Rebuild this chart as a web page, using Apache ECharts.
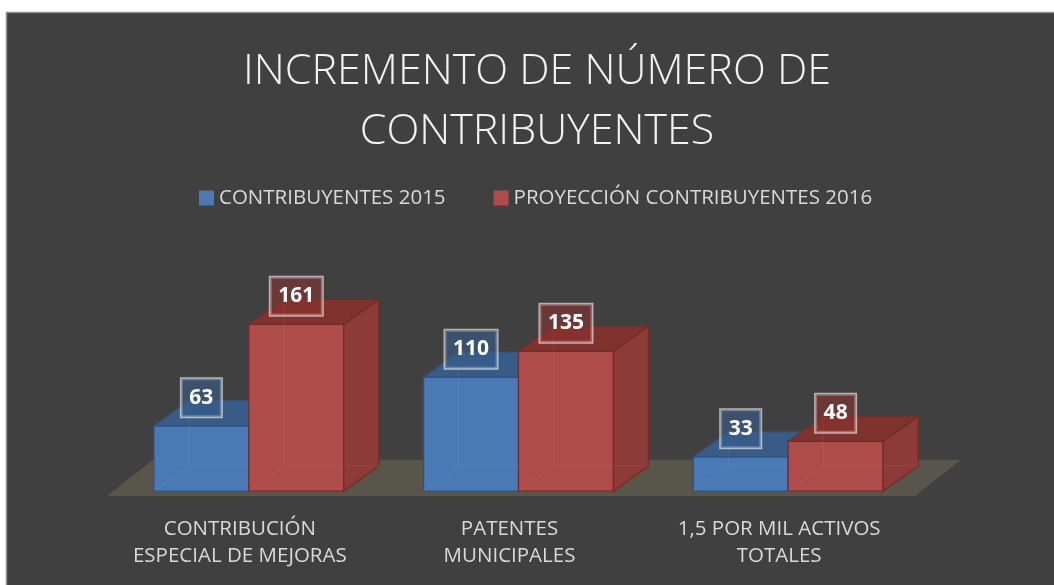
<!DOCTYPE html>
<html>
<head>
<meta charset="utf-8">
<script src="https://cdn.jsdelivr.net/npm/echarts@6/dist/echarts.min.js"></script>
<style>
  html, body { margin: 0; padding: 0; background: #ffffff; }
  #chart { width: 1054px; height: 585px; }
</style>
</head>
<body>
<div id="chart"></div>
<script>
// datos del gráfico
var categories = ['CONTRIBUCIÓN\nESPECIAL DE MEJORAS', 'PATENTES\nMUNICIPALES', '1,5 POR MIL ACTIVOS\nTOTALES'];
var seriesNames = ['CONTRIBUYENTES 2015', 'PROYECCIÓN CONTRIBUYENTES 2016'];
var contrib2015 = [63, 110, 33];
var proyeccion2016 = [161, 135, 48];

(function () {
  var font = '"Open Sans", "DejaVu Sans", sans-serif';

  var palette = [
    { front: '#4a7ab6', top: '#385b88', side: '#3d6292', edge: '#2e5282', label: 'rgba(56,93,138,0.6)' },
    { front: '#ad4c49', top: '#80322f', side: '#8c3b39', edge: '#732a28', label: 'rgba(140,50,48,0.55)' }
  ];

  function toData(arr) {
    return arr.map(function (v, i) { return [i, v]; });
  }

  // caja 3d de cada barra
  function barRenderer(side) {
    var c = palette[side];
    return function (params, api) {
      var cat = api.value(0), val = api.value(1);
      var base = api.coord([cat, 0]);
      var top = api.coord([cat, val]);
      var band = api.size([1, 0])[0];
      var w = band * 0.352;
      var x0 = side === 0 ? base[0] - w : base[0];
      var x1 = x0 + w;
      var y0 = base[1], y1 = top[1];
      var dx = band * 0.13, dy = band * 0.093;
      return {
        type: 'group',
        children: [
          { type: 'polygon', shape: { points: [[x0, y0], [x1, y0], [x1, y1], [x0, y1]] },
            style: { fill: c.front, stroke: c.edge, lineWidth: 1.2 } },
          { type: 'polygon', shape: { points: [[x1, y0], [x1 + dx, y0 - dy], [x1 + dx, y1 - dy], [x1, y1]] },
            style: { fill: c.side, stroke: c.edge, lineWidth: 1.2 } },
          { type: 'polygon', shape: { points: [[x0, y1], [x1, y1], [x1 + dx, y1 - dy], [x0 + dx, y1 - dy]] },
            style: { fill: c.top, stroke: c.edge, lineWidth: 1.2 } },
          // aristas ocultas (barra semitransparente)
          { type: 'polyline', shape: { points: [[x0, y0], [x0 + dx, y0 - dy], [x1 + dx, y0 - dy]] },
            style: { fill: null, stroke: 'rgba(255,255,255,0.07)', lineWidth: 1 } },
          { type: 'line', shape: { x1: x0 + dx, y1: y0 - dy, x2: x0 + dx, y2: y1 - dy },
            style: { stroke: 'rgba(255,255,255,0.07)', lineWidth: 1 } },
          { type: 'text', z2: 100,
            style: {
              x: (x0 + x1) / 2, y: y1 - 28, text: String(val),
              align: 'center', verticalAlign: 'middle',
              fill: '#ffffff', font: 'bold 21px ' + font, lineHeight: 24,
              backgroundColor: c.label, borderColor: 'rgba(255,255,255,0.6)', borderWidth: 1.5,
              padding: [7, 8]
            } }
        ]
      };
    };
  }

  // piso
  function floorRenderer(params, api) {
    var cs = params.coordSys;
    var band = api.size([1, 0])[0];
    var y0 = cs.y + cs.height;
    var dx = band * 0.17, dy = band * 0.134;
    var fl = cs.x - 7, fr = cs.x + cs.width - 8, fy = y0 + 5;
    return {
      type: 'polygon',
      shape: { points: [[fl, fy], [fr, fy], [fr + dx, fy - dy], [fl + dx, fy - dy]] },
      style: { fill: '#58554b' }
    };
  }

  var option = {
    backgroundColor: '#ffffff',
    animation: false,
    graphic: [{
      type: 'rect', z: -10, silent: true,
      shape: { x: 6.5, y: 12.5, width: 1100, height: 650 },
      style: { fill: '#404040', stroke: '#8c8c8c', lineWidth: 1.5 }
    }],
    title: {
      text: 'INCREMENTO DE NÚMERO DE\nCONTRIBUYENTES',
      left: 532, top: 37, textAlign: 'center',
      textStyle: { color: '#f2f2f2', fontFamily: font, fontWeight: 300, fontSize: 43, lineHeight: 60 }
    },
    legend: {
      data: seriesNames,
      top: 180, left: 194,
      itemWidth: 15, itemHeight: 15, itemGap: 48,
      icon: 'rect',
      textStyle: { color: '#d9d9d9', fontFamily: font, fontSize: 20.5, lineHeight: 26 }
    },
    grid: { left: 114, right: 131, top: 284, bottom: 94 },
    xAxis: {
      type: 'category', data: categories,
      axisLine: { show: false }, axisTick: { show: false },
      axisLabel: { color: '#d9d9d9', fontFamily: font, fontSize: 20.5, lineHeight: 27, margin: 25, interval: 0,
        padding: [0, 18, 0, 0] }
    },
    yAxis: {
      type: 'value', min: 0, max: 200,
      show: false, splitLine: { show: false }
    },
    series: [
      { type: 'custom', name: 'floor', renderItem: floorRenderer, data: [[0, 0]], silent: true },
      { type: 'custom', name: seriesNames[0], renderItem: barRenderer(0), data: toData(contrib2015),
        encode: { x: 0, y: 1 }, itemStyle: { color: palette[0].front } },
      { type: 'custom', name: seriesNames[1], renderItem: barRenderer(1), data: toData(proyeccion2016),
        encode: { x: 0, y: 1 }, itemStyle: { color: palette[1].front } }
    ]
  };

  var myChart = echarts.init(document.getElementById('chart'));
  myChart.setOption(option);
})();
</script>
</body>
</html>
